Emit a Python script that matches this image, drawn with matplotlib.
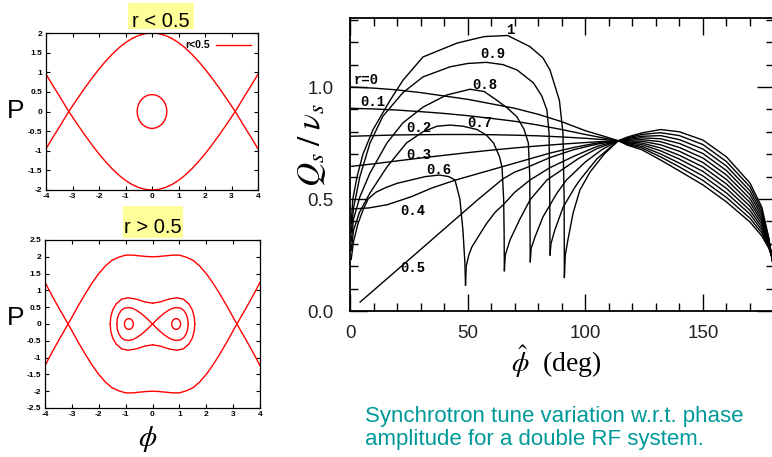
import numpy as np
import matplotlib
matplotlib.use("Agg")
import matplotlib.pyplot as plt
from matplotlib.patches import Ellipse, Rectangle
from matplotlib.ticker import MultipleLocator

# ======================= DATA =======================
# --- phase space, r < 0.5 (half curve, phi >= 0; mirrored for phi < 0)
sepA_phi = [0.0, 0.25, 0.5, 0.75, 1.0, 1.25, 1.5, 1.75, 2.0, 2.25, 2.5, 2.75, 3.0, 3.14, 3.5, 3.75, 4.0]
sepA_P = [2.0, 1.984, 1.938, 1.861, 1.755, 1.622, 1.463, 1.281, 1.081, 0.863, 0.632, 0.391, 0.141, 0.0, -0.40, -0.67, -0.95]
orbitA_size = [1.12, 0.86]            # width, height of inner orbit

# --- phase space, r > 0.5
sepB_phi = [0.0, 0.25, 0.5, 0.75, 1.0, 1.25, 1.5, 1.75, 2.0, 2.25, 2.5, 2.75, 3.0, 3.14, 3.5, 3.75, 4.0]
sepB_P = [2.0, 2.01, 2.03, 2.05, 2.05, 1.99, 1.9, 1.73, 1.5, 1.22, 0.9, 0.56, 0.2, 0.0, -0.5, -0.86, -1.24]
fig8_phi = [0.0, 0.15, 0.3, 0.45, 0.6, 0.75, 0.9, 1.05, 1.17, 1.26, 1.31, 1.33]
fig8_P = [0.0, 0.12, 0.23, 0.33, 0.41, 0.47, 0.49, 0.47, 0.40, 0.28, 0.15, 0.0]
peanut_phi = [0.0, 0.3, 0.6, 0.9, 1.15, 1.35, 1.48, 1.55, 1.575]
peanut_P = [0.62, 0.66, 0.74, 0.78, 0.74, 0.6, 0.42, 0.22, 0.0]
island_centers = [-0.88, 0.88]
island_size = [0.33, 0.32]

phaseA_yticks = [-2, -1.5, -1, -0.5, 0, 0.5, 1, 1.5, 2]
phaseB_yticks = [-2.5, -2, -1.5, -1, -0.5, 0, 0.5, 1, 1.5, 2, 2.5]
phase_xticks = [-4, -3, -2, -1, 0, 1, 2, 3, 4]

# --- synchrotron tune curves Qs/nus vs phase amplitude (deg)
phi_tail = [118, 124, 132, 140, 150, 160, 170, 175, 178, 180]
r00_phi = [0, 10, 20, 30, 40, 50, 60, 70, 80, 90, 100, 108, 114]
r00_Q = [1.0, 0.995, 0.987, 0.975, 0.96, 0.945, 0.925, 0.905, 0.878, 0.845, 0.805, 0.78, 0.76]
r00_tail = [0.740, 0.720, 0.674, 0.625, 0.563, 0.487, 0.397, 0.335, 0.280, 0.220]
r01_phi = [0, 10, 20, 30, 40, 50, 60, 70, 80, 90, 100, 108, 114]
r01_Q = [0.905, 0.902, 0.897, 0.89, 0.882, 0.872, 0.86, 0.847, 0.83, 0.81, 0.788, 0.772, 0.76]
r01_tail = [0.744, 0.728, 0.688, 0.643, 0.583, 0.507, 0.414, 0.348, 0.285, 0.217]
r02_phi = [0, 10, 20, 30, 40, 50, 60, 70, 80, 90, 100, 108, 114]
r02_Q = [0.78, 0.783, 0.786, 0.787, 0.788, 0.788, 0.787, 0.785, 0.782, 0.777, 0.771, 0.765, 0.76]
r02_tail = [0.747, 0.735, 0.701, 0.660, 0.603, 0.527, 0.432, 0.361, 0.289, 0.214]
r03_phi = [0, 10, 20, 30, 40, 50, 60, 70, 80, 90, 100, 108, 114]
r03_Q = [0.645, 0.657, 0.67, 0.683, 0.695, 0.707, 0.718, 0.728, 0.737, 0.745, 0.752, 0.757, 0.76]
r03_tail = [0.751, 0.743, 0.715, 0.678, 0.623, 0.547, 0.449, 0.374, 0.294, 0.211]
r04_phi = [0, 8, 16, 26, 35, 45, 55, 65, 75, 85, 95, 105, 114]
r04_Q = [0.455, 0.46, 0.475, 0.51, 0.55, 0.585, 0.615, 0.645, 0.675, 0.705, 0.73, 0.75, 0.76]
r04_tail = [0.755, 0.750, 0.728, 0.695, 0.643, 0.567, 0.467, 0.387, 0.298, 0.208]
r05_phi = [4.3, 20, 40, 55, 65, 70, 75, 85, 95, 105, 114]
r05_Q = [0.04, 0.183, 0.366, 0.503, 0.59, 0.62, 0.64, 0.685, 0.72, 0.745, 0.76]
r05_tail = [0.759, 0.758, 0.742, 0.713, 0.663, 0.587, 0.484, 0.400, 0.303, 0.205]
r06_left_phi = [0.5, 1.5, 3.4, 5.5, 7.7, 11, 15, 20, 26, 32, 38, 42, 44.6, 46.7, 48, 48.8, 49.1]
r06_left_Q = [0.23, 0.31, 0.39, 0.45, 0.5, 0.53, 0.55, 0.57, 0.585, 0.6, 0.607, 0.6, 0.585, 0.5, 0.36, 0.22, 0.116]
r06_phi = [49.1, 49.4, 50.5, 51.8, 54.4, 58, 61.6, 65, 70, 76.5, 85, 95, 105, 114]
r06_Q = [0.116, 0.2, 0.25, 0.286, 0.33, 0.39, 0.44, 0.473, 0.53, 0.585, 0.64, 0.69, 0.735, 0.76]
r06_tail = [0.762, 0.765, 0.756, 0.730, 0.683, 0.607, 0.501, 0.412, 0.308, 0.202]
r07_left_phi = [0.5, 1.5, 4, 8.5, 15.7, 24, 31, 37, 42.5, 48, 54, 58, 61, 63.5, 64.6, 65.3, 65.5, 65.6]
r07_left_Q = [0.27, 0.36, 0.44, 0.527, 0.643, 0.75, 0.80, 0.825, 0.83, 0.825, 0.81, 0.785, 0.75, 0.69, 0.643, 0.5, 0.35, 0.18]
r07_phi = [65.6, 66, 68, 72, 76.5, 83.7, 90, 97, 105, 114]
r07_Q = [0.18, 0.25, 0.317, 0.406, 0.496, 0.585, 0.63, 0.68, 0.725, 0.76]
r07_tail = [0.766, 0.773, 0.769, 0.748, 0.703, 0.627, 0.519, 0.425, 0.312, 0.199]
r08_left_phi = [0.5, 1.5, 4.2, 8.5, 15.7, 22.5, 31, 41, 51, 57, 62.5, 67, 71, 74, 75.8, 76.4, 76.5, 76.6]
r08_left_Q = [0.31, 0.41, 0.51, 0.616, 0.75, 0.84, 0.91, 0.964, 0.99, 0.98, 0.94, 0.905, 0.866, 0.81, 0.75, 0.6, 0.4, 0.22]
r08_phi = [76.6, 77, 78.6, 82, 88, 92, 100, 107, 114]
r08_Q = [0.22, 0.28, 0.33, 0.42, 0.527, 0.585, 0.665, 0.72, 0.76]
r08_tail = [0.770, 0.780, 0.783, 0.765, 0.723, 0.647, 0.536, 0.438, 0.317, 0.196]
r09_left_phi = [0.5, 1.5, 4.2, 8.5, 14, 22.5, 31, 42.5, 50, 58, 65, 71, 78, 81.5, 83.7, 84.6, 84.9, 85]
r09_left_Q = [0.35, 0.46, 0.6, 0.75, 0.87, 0.975, 1.045, 1.09, 1.105, 1.11, 1.1, 1.076, 1.018, 0.96, 0.897, 0.795, 0.5, 0.25]
r09_phi = [85, 85.4, 87, 90.6, 95.6, 97.7, 105, 110, 114]
r09_Q = [0.25, 0.3, 0.36, 0.464, 0.553, 0.585, 0.68, 0.725, 0.76]
r09_tail = [0.773, 0.788, 0.796, 0.783, 0.743, 0.667, 0.554, 0.451, 0.321, 0.193]
r10_left_phi = [0.5, 1.2, 3, 5.5, 9.8, 17, 22.5, 31, 45.5, 57, 67, 76.5, 82, 85, 89, 90.5, 91, 91.1]
r10_left_Q = [0.39, 0.5, 0.6, 0.70, 0.81, 0.94, 1.03, 1.134, 1.196, 1.225, 1.23, 1.18, 1.13, 1.076, 0.94, 0.795, 0.5, 0.15]
r10_phi = [91.1, 91.5, 92.6, 94.8, 97.7, 102, 108, 114]
r10_Q = [0.15, 0.25, 0.317, 0.437, 0.54, 0.62, 0.70, 0.76]
r10_tail = [0.777, 0.795, 0.810, 0.800, 0.763, 0.688, 0.571, 0.464, 0.326, 0.190]

curve_labels = ["r=0", "0.1", "0.2", "0.3", "0.4", "0.5", "0.6", "0.7", "0.8", "0.9", "1"]
label_phi = [1.7, 4.2, 24, 24, 21.3, 21.3, 32.3, 50, 52, 55.3, 66.3]
label_Q = [1.03, 0.933, 0.817, 0.696, 0.446, 0.19, 0.63, 0.84, 1.01, 1.147, 1.254]

tune_xticks = [0, 50, 100, 150]
tune_xticklabels = ["0", "50", "100", "150"]
tune_yticks = [0.0, 0.5, 1.0]
tune_yticklabels = ["0.0", "0.5", "1.0"]

caption_lines = ["Synchrotron tune variation w.r.t. phase", "amplitude for a double RF system."]

# ======================= FIGURE =======================
W, H = 772, 457
fig = plt.figure(figsize=(W / 100, H / 100), dpi=100)
fig.patch.set_facecolor("white")


def fx(px):
    return px / W


def fy(py):
    return 1 - py / H


def mirrored(phi_half, P_half):
    ph = np.asarray(phi_half, float)
    pp = np.asarray(P_half, float)
    return np.concatenate([-ph[::-1], ph[1:]]), np.concatenate([pp[::-1], pp[1:]])


RED = "#ff0000"
LW = 1.0


def style_phase(ax, yticks, ylim):
    ax.set_xlim(-4, 4)
    ax.set_ylim(*ylim)
    ax.set_xticks(phase_xticks, [("%g" % v) for v in phase_xticks],
                  fontsize=6, fontweight="bold", family="Liberation Sans")
    ax.set_yticks(yticks, [("%g" % v) for v in yticks],
                  fontsize=6, fontweight="bold", family="Liberation Sans")
    ax.tick_params(direction="in", length=3, width=0.8, top=True, right=True, pad=2.5)
    for s in ax.spines.values():
        s.set_linewidth(0.9)


# ---- top-left panel (r < 0.5)
axA = fig.add_axes([fx(46), fy(190), fx(258) - fx(46), fy(33) - fy(190)])
phA, PA = mirrored(sepA_phi, sepA_P)
axA.plot(phA, PA, color=RED, lw=LW, label="r<0.5")
axA.plot(phA, -PA, color=RED, lw=LW)
axA.add_patch(Ellipse((0, 0), orbitA_size[0], orbitA_size[1], fill=False, ec=RED, lw=LW))
style_phase(axA, phaseA_yticks, (-2, 2))
axA.legend(loc="upper right", frameon=False, markerfirst=False, handlelength=3.3,
           borderaxespad=0.3, handletextpad=0.6,
           prop={"family": "Liberation Sans", "weight": "bold", "size": 7.5})

# ---- bottom-left panel (r > 0.5)
axB = fig.add_axes([fx(45), fy(408), fx(260) - fx(45), fy(240) - fy(408)])
phB, PB = mirrored(sepB_phi, sepB_P)
axB.plot(phB, PB, color=RED, lw=LW)
axB.plot(phB, -PB, color=RED, lw=LW)
for sx in (1, -1):
    for sy in (1, -1):
        axB.plot(sx * np.asarray(fig8_phi), sy * np.asarray(fig8_P), color=RED, lw=LW)
        axB.plot(sx * np.asarray(peanut_phi), sy * np.asarray(peanut_P), color=RED, lw=LW)
for c in island_centers:
    axB.add_patch(Ellipse((c, 0), island_size[0], island_size[1], fill=False, ec=RED, lw=LW))
style_phase(axB, phaseB_yticks, (-2.5, 2.5))

# labels of the left panels
for ypx in (111, 318):
    fig.text(fx(16), fy(ypx), "P", fontsize=19, family="Liberation Sans", ha="center", va="center")
fig.text(fx(148), fy(439), r"$\phi$", fontsize=21, ha="center", va="center", math_fontfamily="stix")

# yellow title boxes
YEL = "#ffff99"
fig.add_artist(Rectangle((fx(128), fy(29)), fx(194) - fx(128), fy(3) - fy(29),
                         transform=fig.transFigure, fc=YEL, ec="none", zorder=5))
fig.text(fx(161), fy(27), "r < 0.5", fontsize=14.5, family="Liberation Sans",
         ha="center", va="baseline", zorder=6)
fig.add_artist(Rectangle((fx(123), fy(238)), fx(183) - fx(123), fy(206) - fy(238),
                         transform=fig.transFigure, fc=YEL, ec="none", zorder=5))
fig.text(fx(153), fy(233), "r > 0.5", fontsize=14.5, family="Liberation Sans",
         ha="center", va="baseline", zorder=6)

# ---- right panel: tune vs amplitude
axR = fig.add_axes([fx(350), fy(311), 180 * 2.353 / W, 1.31 * 224 / H])
axR.set_xlim(0, 180)
axR.set_ylim(0, 1.31)
K = dict(color="black", lw=1.0, solid_joinstyle="round")
full_curves = [(r00_phi, r00_Q, r00_tail), (r01_phi, r01_Q, r01_tail), (r02_phi, r02_Q, r02_tail),
               (r03_phi, r03_Q, r03_tail), (r04_phi, r04_Q, r04_tail), (r05_phi, r05_Q, r05_tail),
               (r06_phi, r06_Q, r06_tail), (r07_phi, r07_Q, r07_tail), (r08_phi, r08_Q, r08_tail),
               (r09_phi, r09_Q, r09_tail), (r10_phi, r10_Q, r10_tail)]
for ph, q, tail in full_curves:
    axR.plot(list(ph) + phi_tail, list(q) + tail, **K)
for ph, q in [(r06_left_phi, r06_left_Q), (r07_left_phi, r07_left_Q), (r08_left_phi, r08_left_Q),
              (r09_left_phi, r09_left_Q), (r10_left_phi, r10_left_Q)]:
    axR.plot(ph, q, **K)
for t, x, y in zip(curve_labels, label_phi, label_Q):
    axR.text(x, y, t, fontsize=10, family="Liberation Mono", fontweight="bold", ha="left", va="center")

axR.set_xticks(tune_xticks, tune_xticklabels, fontsize=13.5, family="Liberation Sans", color="#222222")
axR.set_yticks(tune_yticks, tune_yticklabels, fontsize=13.5, family="Liberation Sans", color="#222222")
axR.xaxis.set_minor_locator(MultipleLocator(10))
axR.yaxis.set_minor_locator(MultipleLocator(0.1))
axR.tick_params(which="major", direction="in", length=12, width=1.0, top=True, right=True)
axR.tick_params(axis="x", which="major", pad=10)
axR.tick_params(axis="y", which="major", pad=12)
axR.tick_params(which="minor", direction="in", length=6, width=1.0, top=True, right=True)
for s in axR.spines.values():
    s.set_linewidth(1.3)

fig.text(fx(311), fy(145), r"$Q_s\;/\;\nu_s$", fontsize=24, rotation=90,
         ha="center", va="center", math_fontfamily="stix")
fig.text(fx(556), fy(362), r"$\hat{\phi}$  (deg)", fontsize=20, family="Liberation Serif",
         ha="center", va="center", math_fontfamily="stix")

# caption
fig.text(fx(365), fy(422), caption_lines[0], fontsize=16, family="Liberation Sans",
         color="#009999", ha="left", va="baseline")
fig.text(fx(365), fy(445), caption_lines[1], fontsize=16, family="Liberation Sans",
         color="#009999", ha="left", va="baseline")

fig.savefig("out.png", dpi=100)
